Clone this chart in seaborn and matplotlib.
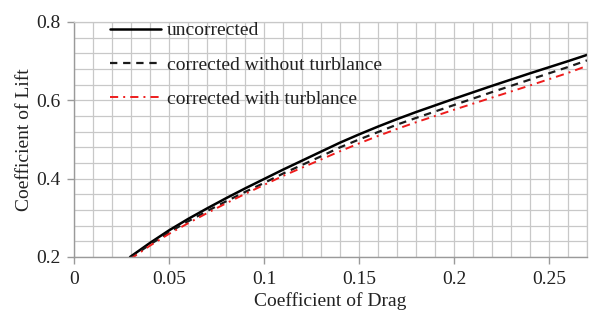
import numpy as np
import pandas as pd
import matplotlib
matplotlib.use("Agg")
import matplotlib.pyplot as plt
from matplotlib.ticker import MultipleLocator, FuncFormatter
import seaborn as sns

# drag coefficient samples
cd = [0.0295, 0.04, 0.05, 0.06, 0.07, 0.08, 0.09, 0.10, 0.11, 0.12, 0.13,
      0.14, 0.15, 0.16, 0.17, 0.18, 0.20, 0.22, 0.24, 0.26, 0.27]

# lift coefficient for each case
cl_uncorrected = [0.200, 0.236, 0.268, 0.297, 0.324, 0.350, 0.375, 0.399, 0.423, 0.446, 0.469,
                  0.492, 0.513, 0.533, 0.552, 0.570, 0.604, 0.637, 0.669, 0.700, 0.716]
cl_corr_no_turb = [0.197, 0.232, 0.263, 0.291, 0.317, 0.342, 0.366, 0.389, 0.413, 0.435, 0.457,
                   0.480, 0.500, 0.519, 0.538, 0.555, 0.588, 0.621, 0.653, 0.685, 0.702]
cl_corr_turb = [0.194, 0.229, 0.259, 0.286, 0.312, 0.337, 0.361, 0.384, 0.407, 0.428, 0.449,
                0.470, 0.490, 0.509, 0.527, 0.544, 0.576, 0.607, 0.638, 0.670, 0.688]

labels = ["uncorrected", "corrected without turblance", "corrected with turblance"]

sns.set_style("white")
plt.rcParams['font.family'] = ['Liberation Serif', 'DejaVu Serif']

fig = plt.figure(figsize=(5.95, 3.17), dpi=100)
ax = fig.add_axes([0.1244, 0.1893, 0.8622, 0.7413])

sns.lineplot(x=cd, y=cl_uncorrected, ax=ax, color='black', lw=1.8, label=labels[0])
sns.lineplot(x=cd, y=cl_corr_no_turb, ax=ax, color='#1a1a1a', lw=1.6, label=labels[1])
sns.lineplot(x=cd, y=cl_corr_turb, ax=ax, color='#ee1c1c', lw=1.4, label=labels[2])
ax.lines[1].set_dashes([3.3, 2.6])
ax.lines[2].set_dashes([4.2, 2.6, 1.0, 2.6])

ax.set_xlim(0, 0.27)
ax.set_ylim(0.2, 0.8)
ax.xaxis.set_major_locator(MultipleLocator(0.05))
ax.xaxis.set_minor_locator(MultipleLocator(0.01))
ax.yaxis.set_major_locator(MultipleLocator(0.2))
ax.yaxis.set_minor_locator(MultipleLocator(0.04))
ax.xaxis.set_major_formatter(FuncFormatter(lambda v, p: "%g" % round(v, 3)))
ax.yaxis.set_major_formatter(FuncFormatter(lambda v, p: "%g" % round(v, 3)))

ax.grid(which='both', color='#c8c8c8', lw=0.9)
ax.set_axisbelow(True)
for s in ['top', 'right']:
    ax.spines[s].set_color('#c8c8c8')
    ax.spines[s].set_linewidth(0.9)
for s in ['left', 'bottom']:
    ax.spines[s].set_color('#9a9a9a')
    ax.spines[s].set_linewidth(1.0)

ax.tick_params(which='major', direction='out', length=5, width=1, color='#9a9a9a',
               labelsize=14, labelcolor='#222222', pad=5, left=True, bottom=True)
ax.tick_params(which='minor', length=0)

ax.set_xlabel("Coefficient of Drag", fontsize=14, color='#222222', labelpad=3)
ax.set_ylabel("Coefficient of Lift", fontsize=14, color='#222222', labelpad=2)

leg = ax.legend(loc='upper left', bbox_to_anchor=(0.037, 1.075), frameon=False,
                fontsize=14, handlelength=2.6, handletextpad=0.3, labelspacing=0.85)
for t in leg.get_texts():
    t.set_color('#222222')

fig.savefig("out.png", dpi=100)
